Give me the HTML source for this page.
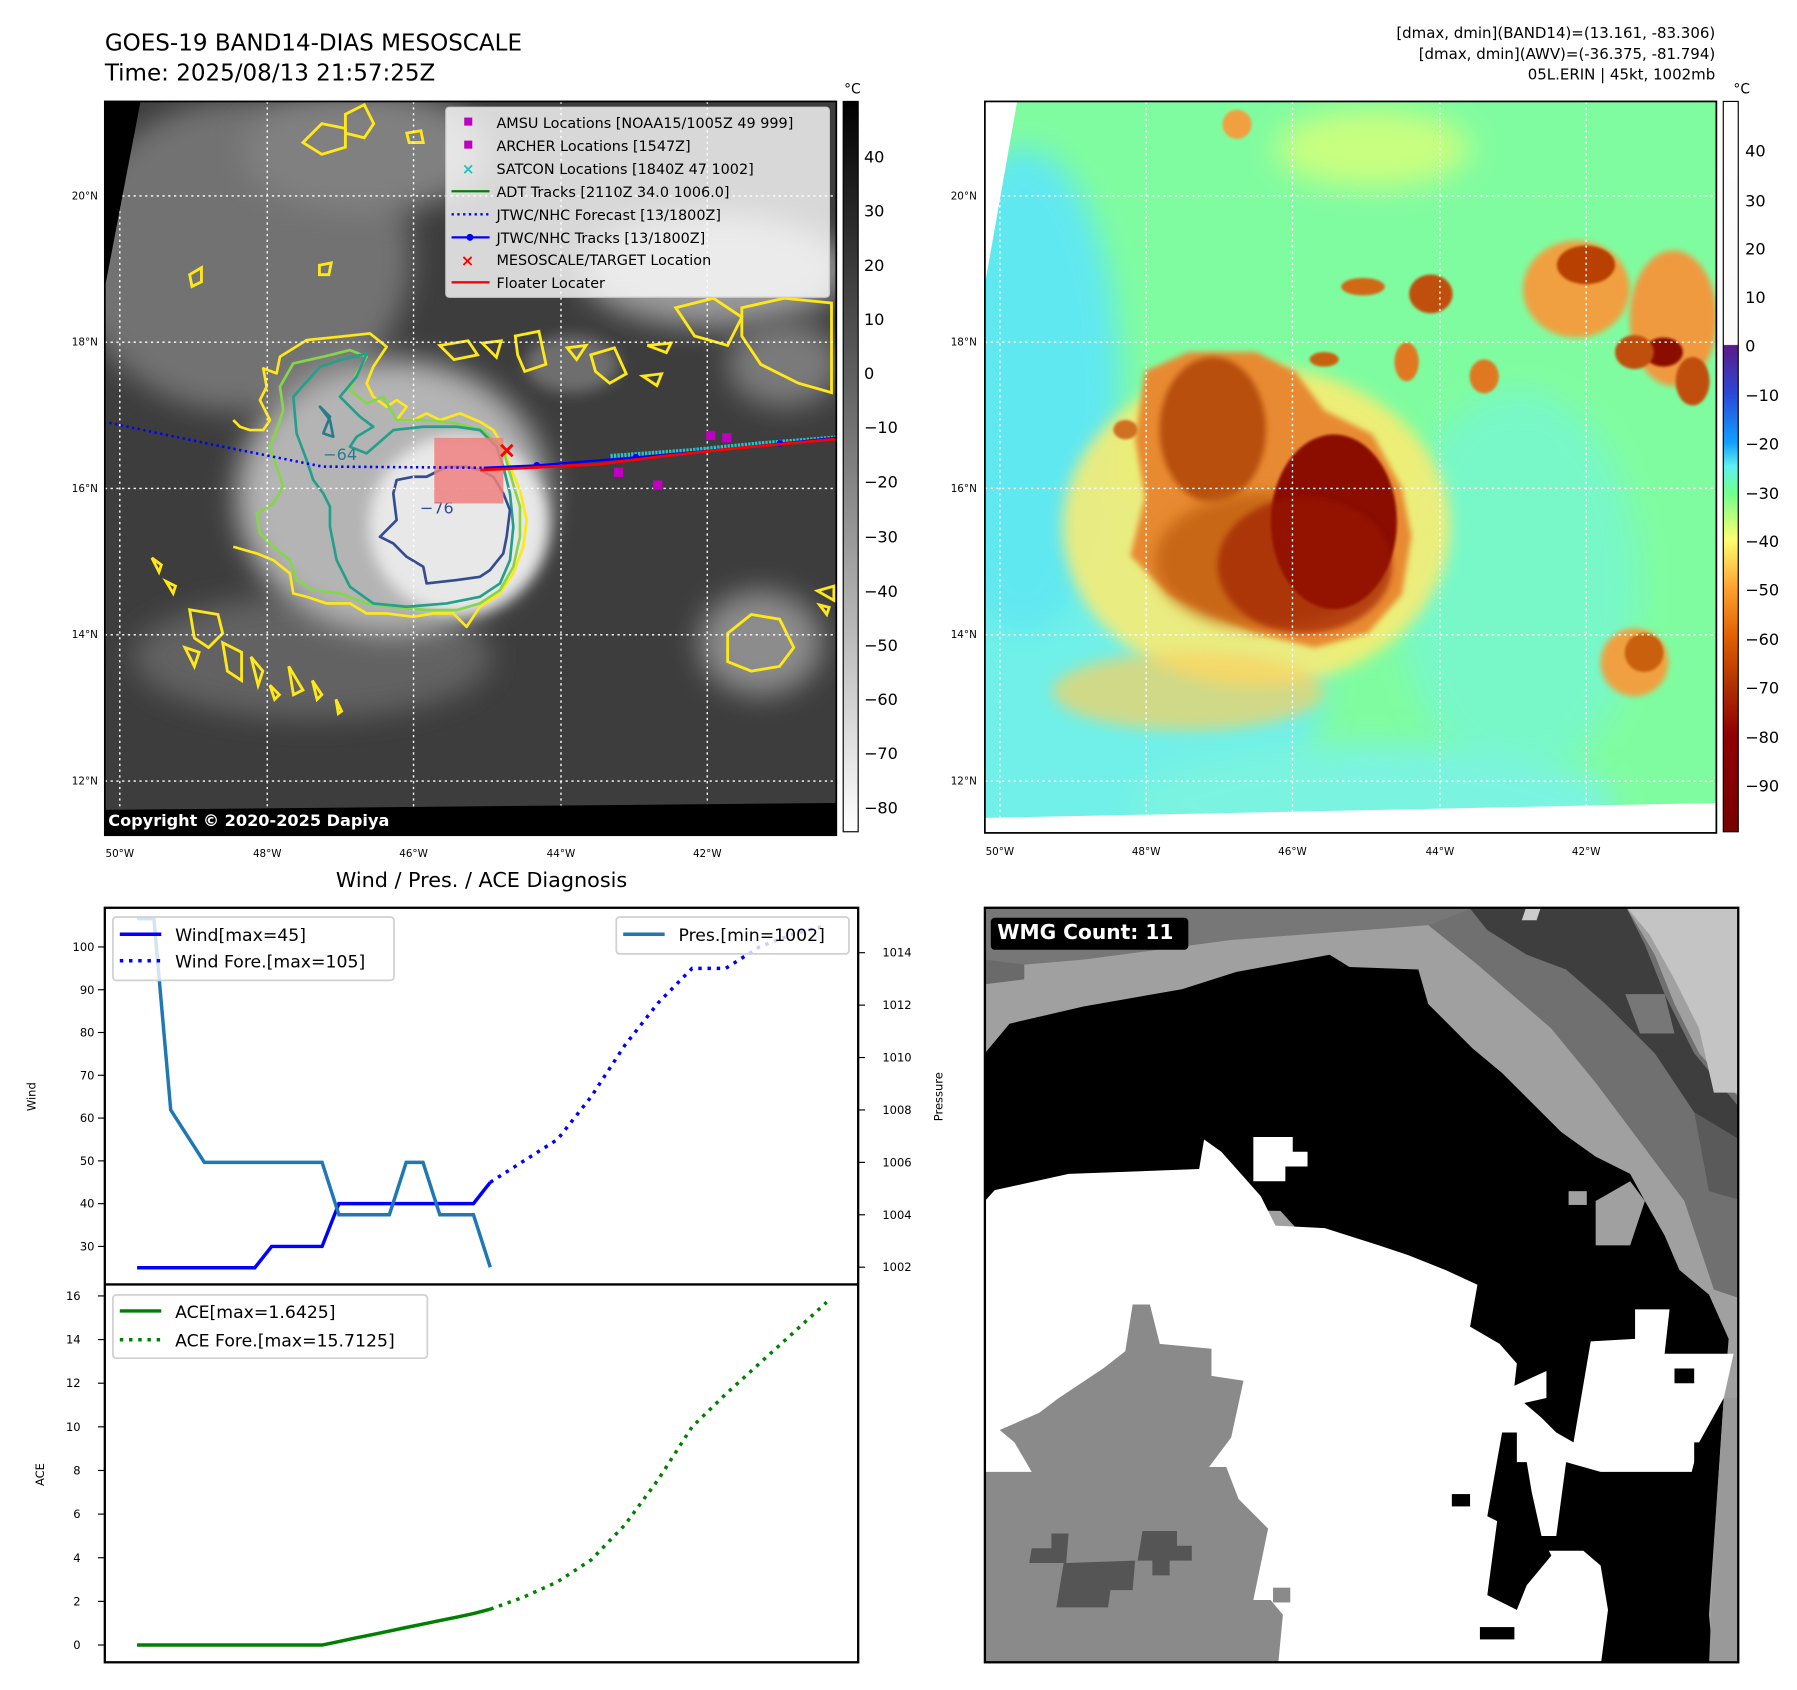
<!DOCTYPE html>
<html><head><meta charset="utf-8"><title>GOES-19 BAND14 Erin</title>
<style>
html,body{margin:0;padding:0;background:#fff;}
svg{display:block;font-family:"DejaVu Sans","Liberation Sans",sans-serif;}
</style></head>
<body>
<svg id="fig" width="1797" height="1690" viewBox="0 0 1560 1467" xmlns="http://www.w3.org/2000/svg">
<defs>
  <filter id="b30" x="-50%" y="-50%" width="200%" height="200%"><feGaussianBlur stdDeviation="30"/></filter>
  <filter id="b15" x="-50%" y="-50%" width="200%" height="200%"><feGaussianBlur stdDeviation="15"/></filter>
  <filter id="b6" x="-50%" y="-50%" width="200%" height="200%"><feGaussianBlur stdDeviation="6"/></filter>
  <filter id="b3" x="-50%" y="-50%" width="200%" height="200%"><feGaussianBlur stdDeviation="3"/></filter>
  <clipPath id="clipL"><rect x="91" y="88" width="635" height="637"/></clipPath>
  <clipPath id="clipR"><rect x="855" y="88" width="635" height="635"/></clipPath>
  <clipPath id="clipW"><rect x="855" y="788" width="654" height="655"/></clipPath>
  <clipPath id="clipTop"><rect x="91" y="788" width="654" height="327"/></clipPath>
  <linearGradient id="cbGray" x1="0" y1="0" x2="0" y2="1">
    <stop offset="0" stop-color="#000"/><stop offset="1" stop-color="#fff"/>
  </linearGradient>
  <linearGradient id="cbColor" x1="0" y1="0" x2="0" y2="1">
    <stop offset="0" stop-color="#ffffff"/>
    <stop offset="0.333" stop-color="#fafafa"/>
    <stop offset="0.334" stop-color="#5a1a88"/>
    <stop offset="0.40" stop-color="#2a48d8"/>
    <stop offset="0.467" stop-color="#10a0ff"/>
    <stop offset="0.50" stop-color="#60f0f0"/>
    <stop offset="0.535" stop-color="#70ff90"/>
    <stop offset="0.60" stop-color="#ffff70"/>
    <stop offset="0.667" stop-color="#ffa030"/>
    <stop offset="0.733" stop-color="#e06000"/>
    <stop offset="0.80" stop-color="#b03000"/>
    <stop offset="0.867" stop-color="#900000"/>
    <stop offset="1" stop-color="#780000"/>
  </linearGradient>
</defs>

<!-- ===== Titles ===== -->
<text x="91" y="44" font-size="20" fill="#000">GOES-19 BAND14-DIAS MESOSCALE</text>
<text x="91" y="70" font-size="20" fill="#000">Time: 2025/08/13 21:57:25Z</text>
<g font-size="13" text-anchor="end" fill="#000">
  <text x="1489" y="33">[dmax, dmin](BAND14)=(13.161, -83.306)</text>
  <text x="1489" y="51">[dmax, dmin](AWV)=(-36.375, -81.794)</text>
  <text x="1489" y="69">05L.ERIN | 45kt, 1002mb</text>
</g>

<!-- ===== Left IR map ===== -->
<g clip-path="url(#clipL)">
  <rect x="91" y="88" width="635" height="637" fill="#3d3d3d"/>
  <g transform="translate(86.8,86.8) scale(0.4097)">
    <ellipse cx="300" cy="330" rx="360" ry="330" fill="#727272" filter="url(#b30)"/>
    <ellipse cx="560" cy="110" rx="260" ry="130" fill="#808080" filter="url(#b30)"/>
    <ellipse cx="1300" cy="360" rx="280" ry="120" fill="#9a9a9a" filter="url(#b30)"/>
    <ellipse cx="1450" cy="560" rx="120" ry="90" fill="#7a7a7a" filter="url(#b30)"/>
    <ellipse cx="1400" cy="1150" rx="130" ry="110" fill="#8c8c8c" filter="url(#b30)"/>
    <ellipse cx="450" cy="1180" rx="380" ry="130" fill="#626262" filter="url(#b30)"/>
    <ellipse cx="620" cy="840" rx="330" ry="290" fill="#b4b4b4" filter="url(#b30)"/>
    <ellipse cx="760" cy="900" rx="190" ry="190" fill="#e8e8e8" filter="url(#b15)"/>
    <ellipse cx="1000" cy="560" rx="100" ry="60" fill="#6e6e6e" filter="url(#b15)"/>
  </g>
  <g transform="translate(208.3,277.8) scale(0.2894)" fill="none" stroke-width="8" stroke-linejoin="round">
    <path stroke="#ffe81a" d="M-20,680 L50,700 100,720 150,760 160,820 200,830 260,850 330,850 380,880 440,880 520,890 580,880 640,880 680,920 720,860 780,820 820,760 850,680 860,600 840,510 810,440 790,380 760,330 720,305 660,280 600,300 560,280 520,300 470,300 500,260 470,240 440,260 400,230 380,190 400,140 440,80 390,40 300,50 200,60 120,110 110,160 70,145 80,200 60,240 90,300 70,330 30,330 0,320 -20,300"/>
    <path stroke="#86d64a" d="M120,200 L160,130 250,110 330,90 380,110 350,160 330,210 380,250 430,230 470,300 520,300 560,300 650,310 730,330 790,390 810,460 840,560 840,650 820,740 780,810 720,850 650,870 560,870 450,860 380,850 300,820 220,810 170,780 150,720 100,680 60,640 50,580 100,550 130,500 110,440 90,380 110,330 130,270 Z"/>
    <path stroke="#24a08a" d="M170,340 L160,230 240,140 300,120 380,100 350,170 300,230 360,290 400,320 350,350 330,380 380,400 460,330 550,320 650,320 720,330 770,380 790,440 810,520 820,620 810,720 780,790 720,830 620,850 500,860 400,850 330,800 290,720 270,620 270,560 250,520 220,480 200,420 Z"/>
    <path stroke="#2a7a8e" d="M240,260 L270,290 250,340 280,350 270,300 Z"/>
    <path stroke="#344c90" d="M470,480 L520,470 560,470 620,440 680,440 720,450 760,470 790,520 810,570 800,650 790,700 750,750 720,770 650,780 560,790 550,740 500,710 460,670 420,650 430,640 470,600 460,520 Z"/>
    <text x="540" y="580" font-size="48" fill="#344c90" stroke="none">−76</text>
    <text x="250" y="420" font-size="48" fill="#2a7a8e" stroke="none">−64</text>
  </g>
  <g transform="translate(86.8,86.8) scale(0.4097)" fill="none" stroke="#ffe81a" stroke-width="6">
    <path d="M430,90 L470,50 520,60 520,100 470,115 Z"/><path d="M520,30 L560,10 580,50 560,80 520,70 Z"/>
    <path d="M650,70 L680,65 685,90 655,90 Z"/><path d="M190,370 L215,355 215,385 195,395 Z"/>
    <path d="M465,350 L490,345 485,370 465,370 Z"/><path d="M880,500 L930,490 945,560 900,575 885,540 Z"/>
    <path d="M990,525 L1030,520 1010,550 Z"/><path d="M1040,540 L1090,525 1115,580 1080,600 1050,575 Z"/>
    <path d="M1150,585 L1190,580 1180,605 Z"/><path d="M1160,520 L1210,515 1200,535 Z"/>
    <path d="M1330,1130 L1380,1090 1440,1100 1470,1160 1440,1200 1380,1210 1330,1190 Z"/>
    <path d="M1220,440 L1300,420 1360,460 1330,520 1260,500 Z"/>
    <path d="M1360,440 L1450,420 1550,430 1550,620 1480,600 1400,560 1360,500 Z"/>
    <path d="M720,520 L780,510 800,540 750,550 Z"/><path d="M810,515 L850,510 840,545 Z"/>
    <path d="M1520,1040 L1555,1030 1555,1060 Z"/><path d="M1525,1070 L1545,1075 1540,1090 Z"/>
    <path d="M190,1080 L250,1090 260,1130 230,1160 200,1140 Z"/><path d="M260,1150 L300,1170 300,1230 270,1210 Z"/>
    <path d="M320,1180 L345,1210 335,1240 Z"/><path d="M400,1200 L430,1250 410,1260 Z"/>
    <path d="M180,1160 L210,1170 200,1200 Z"/><path d="M110,970 L130,985 125,1000 Z"/>
    <path d="M140,1020 L160,1030 155,1045 Z"/><path d="M450,1230 L470,1260 460,1270 Z"/>
    <path d="M500,1270 L512,1295 505,1300 Z"/><path d="M360,1240 L380,1260 370,1270 Z"/>
  </g>
  <g stroke="#fff" stroke-width="1.2" stroke-dasharray="2,3">
    <line x1="104" y1="88" x2="104" y2="725"/><line x1="232" y1="88" x2="232" y2="725"/><line x1="359" y1="88" x2="359" y2="725"/><line x1="487" y1="88" x2="487" y2="725"/><line x1="614" y1="88" x2="614" y2="725"/>
    <line x1="91" y1="170" x2="726" y2="170"/><line x1="91" y1="297" x2="726" y2="297"/><line x1="91" y1="424" x2="726" y2="424"/><line x1="91" y1="551" x2="726" y2="551"/><line x1="91" y1="678" x2="726" y2="678"/>
  </g>
  <polygon points="91,88 122,88 91,250" fill="#000"/>
  <polygon points="91,703 726,697 726,725 91,725" fill="#000"/>
  <rect x="377" y="380" width="60" height="57" fill="#f08080" opacity="0.85"/>
  <polyline points="95,367 180,385 280,405 420,406" fill="none" stroke="#0000ff" stroke-width="2.2" stroke-dasharray="2,3"/>
  <polyline points="530,396 600,391 660,385 726,380" fill="none" stroke="#20c8c8" stroke-width="4" stroke-dasharray="2,1"/>
  <polyline points="420,406 466,404 552,397 640,389 726,380" fill="none" stroke="#0000ff" stroke-width="2"/>
  <g fill="#0000ff"><circle cx="466" cy="404" r="3"/><circle cx="552" cy="397" r="3"/><circle cx="677" cy="385" r="3"/></g>
  <polyline points="417,408 460,406 520,403 575,396 640,389 726,381" fill="none" stroke="#ff0000" stroke-width="2.4"/>
  <g stroke="#ff0000" stroke-width="2.5"><line x1="435" y1="386" x2="445" y2="396"/><line x1="445" y1="386" x2="435" y2="396"/></g>
  <g fill="#c000c0"><rect x="533" y="406" width="8" height="8"/><rect x="567" y="417" width="8" height="8"/><rect x="613" y="374" width="8" height="8"/><rect x="627" y="376" width="8" height="8"/></g>
  <g>
    <rect x="387" y="93" width="333" height="165" rx="3" fill="#fff" fill-opacity="0.8" stroke="#ccc"/>
    <g font-size="12.5" fill="#000">
      <rect x="403" y="102" width="7" height="7" fill="#c000c0"/><text x="431" y="111">AMSU Locations [NOAA15/1005Z 49 999]</text>
      <rect x="403" y="122" width="7" height="7" fill="#c000c0"/><text x="431" y="131">ARCHER Locations [1547Z]</text>
      <text x="401" y="151" fill="#20c0c0" font-size="13" font-weight="bold">×</text><text x="431" y="151">SATCON Locations [1840Z 47 1002]</text>
      <line x1="392" y1="166" x2="425" y2="166" stroke="#008000" stroke-width="2"/><text x="431" y="171">ADT Tracks [2110Z 34.0 1006.0]</text>
      <line x1="392" y1="186" x2="425" y2="186" stroke="#0000ff" stroke-width="2" stroke-dasharray="2,3"/><text x="431" y="191">JTWC/NHC Forecast [13/1800Z]</text>
      <line x1="392" y1="206" x2="425" y2="206" stroke="#0000ff" stroke-width="2"/><circle cx="408" cy="206" r="3" fill="#0000ff"/><text x="431" y="211">JTWC/NHC Tracks [13/1800Z]</text>
      <text x="400" y="231" fill="#ff0000" font-size="14" font-weight="bold">×</text><text x="431" y="230">MESOSCALE/TARGET Location</text>
      <line x1="392" y1="245" x2="425" y2="245" stroke="#ff0000" stroke-width="2"/><text x="431" y="250">Floater Locater</text>
    </g>
  </g>
  <text x="94" y="717" font-size="14" font-weight="bold" fill="#fff">Copyright © 2020-2025 Dapiya</text>
</g>
<rect x="91" y="88" width="635" height="637" fill="none" stroke="#000" stroke-width="1.5"/>
<g font-size="9" text-anchor="end" fill="#000">
  <text x="85" y="173">20°N</text><text x="85" y="300">18°N</text><text x="85" y="427">16°N</text><text x="85" y="554">14°N</text><text x="85" y="681">12°N</text>
</g>
<g font-size="9" text-anchor="middle" fill="#000">
  <text x="104" y="744">50°W</text><text x="232" y="744">48°W</text><text x="359" y="744">46°W</text><text x="487" y="744">44°W</text><text x="614" y="744">42°W</text>
</g>
<g>
  <rect x="732" y="88" width="13" height="634" fill="url(#cbGray)" stroke="#000" stroke-width="1"/>
  <text x="740" y="81" font-size="12" text-anchor="middle">°C</text>
  <g font-size="14" fill="#000">
    <text x="750" y="141">40</text><text x="750" y="188">30</text><text x="750" y="235">20</text><text x="750" y="282">10</text><text x="750" y="329">0</text>
    <text x="750" y="376">−10</text><text x="750" y="423">−20</text><text x="750" y="471">−30</text><text x="750" y="518">−40</text><text x="750" y="565">−50</text>
    <text x="750" y="612">−60</text><text x="750" y="659">−70</text><text x="750" y="706">−80</text>
  </g>
</g>

<!-- ===== Right color map ===== -->
<g clip-path="url(#clipR)">
  <rect x="855" y="88" width="635" height="635" fill="#80fca0"/>
  <g transform="translate(855,86.8) scale(0.4208)">
    <ellipse cx="200" cy="1200" rx="500" ry="400" fill="#70f0e8" filter="url(#b30)"/>
    <ellipse cx="80" cy="600" rx="200" ry="500" fill="#60e8f0" filter="url(#b30)"/>
    <ellipse cx="1100" cy="1000" rx="250" ry="400" fill="#78f8c8" filter="url(#b30)"/>
    <ellipse cx="800" cy="1450" rx="500" ry="120" fill="#7af4e0" filter="url(#b30)"/>
    <ellipse cx="800" cy="100" rx="200" ry="80" fill="#c8ff80" filter="url(#b30)"/>
    <ellipse cx="560" cy="880" rx="400" ry="330" fill="#ffec70" filter="url(#b15)" opacity="0.85"/>
    <ellipse cx="420" cy="1220" rx="280" ry="80" fill="#f8d060" filter="url(#b15)" opacity="0.7"/>
    <path d="M330,560 L420,520 560,520 640,560 700,640 800,690 860,800 880,900 860,1020 790,1100 680,1130 560,1100 470,1060 380,1020 300,940 330,820 310,700 Z" fill="#e88a30" filter="url(#b6)"/>
    <ellipse cx="470" cy="680" rx="110" ry="150" fill="#b85010" filter="url(#b6)"/>
    <ellipse cx="580" cy="950" rx="230" ry="140" fill="#c86818" filter="url(#b15)"/>
    <ellipse cx="720" cy="870" rx="130" ry="180" fill="#8a0800" filter="url(#b3)"/>
    <ellipse cx="660" cy="960" rx="180" ry="140" fill="#9a1800" filter="url(#b6)" opacity="0.6"/>
    <ellipse cx="1220" cy="390" rx="110" ry="100" fill="#f0a040" filter="url(#b6)"/>
    <ellipse cx="1240" cy="340" rx="60" ry="40" fill="#b84000" filter="url(#b3)"/>
    <ellipse cx="1420" cy="450" rx="90" ry="140" fill="#f09a40" filter="url(#b6)"/>
    <ellipse cx="1400" cy="520" rx="40" ry="30" fill="#8a1000" filter="url(#b3)"/>
    <ellipse cx="1340" cy="520" rx="40" ry="35" fill="#c05010" filter="url(#b3)"/>
    <ellipse cx="1460" cy="580" rx="35" ry="50" fill="#c05010" filter="url(#b3)"/>
    <ellipse cx="920" cy="400" rx="45" ry="40" fill="#c05010" filter="url(#b3)"/>
    <ellipse cx="780" cy="385" rx="45" ry="18" fill="#d06818" filter="url(#b3)"/>
    <ellipse cx="870" cy="540" rx="25" ry="40" fill="#e07820" filter="url(#b3)"/>
    <ellipse cx="1030" cy="570" rx="30" ry="35" fill="#e07820" filter="url(#b3)"/>
    <ellipse cx="700" cy="535" rx="30" ry="15" fill="#c86010" filter="url(#b3)"/>
    <ellipse cx="1340" cy="1160" rx="70" ry="70" fill="#f0a040" filter="url(#b6)"/>
    <ellipse cx="1360" cy="1140" rx="40" ry="40" fill="#c86010" filter="url(#b3)"/>
    <ellipse cx="520" cy="50" rx="30" ry="30" fill="#f0a040" filter="url(#b3)"/>
    <ellipse cx="290" cy="680" rx="25" ry="20" fill="#d07020" filter="url(#b3)"/>
  </g>
  <polygon points="855,88 883,88 855,247" fill="#fff"/>
  <polygon points="855,710 1490,697 1490,723 855,723" fill="#fff"/>
  <g stroke="#fff" stroke-width="1.2" stroke-dasharray="2,3">
    <line x1="868" y1="88" x2="868" y2="723"/><line x1="995" y1="88" x2="995" y2="723"/><line x1="1122" y1="88" x2="1122" y2="723"/><line x1="1250" y1="88" x2="1250" y2="723"/><line x1="1377" y1="88" x2="1377" y2="723"/>
    <line x1="855" y1="170" x2="1490" y2="170"/><line x1="855" y1="297" x2="1490" y2="297"/><line x1="855" y1="424" x2="1490" y2="424"/><line x1="855" y1="551" x2="1490" y2="551"/><line x1="855" y1="678" x2="1490" y2="678"/>
  </g>
</g>
<rect x="855" y="88" width="635" height="635" fill="none" stroke="#000" stroke-width="1.5"/>
<g font-size="9" text-anchor="end" fill="#000">
  <text x="848" y="173">20°N</text><text x="848" y="300">18°N</text><text x="848" y="427">16°N</text><text x="848" y="554">14°N</text><text x="848" y="681">12°N</text>
</g>
<g font-size="9" text-anchor="middle" fill="#000">
  <text x="868" y="742">50°W</text><text x="995" y="742">48°W</text><text x="1122" y="742">46°W</text><text x="1250" y="742">44°W</text><text x="1377" y="742">42°W</text>
</g>
<g>
  <rect x="1496" y="88" width="13" height="634" fill="url(#cbColor)" stroke="#000" stroke-width="1"/>
  <text x="1512" y="81" font-size="12" text-anchor="middle">°C</text>
  <g font-size="14" fill="#000">
    <text x="1515" y="136">40</text><text x="1515" y="179">30</text><text x="1515" y="221">20</text><text x="1515" y="263">10</text><text x="1515" y="305">0</text>
    <text x="1515" y="348">−10</text><text x="1515" y="390">−20</text><text x="1515" y="433">−30</text><text x="1515" y="475">−40</text><text x="1515" y="517">−50</text>
    <text x="1515" y="560">−60</text><text x="1515" y="602">−70</text><text x="1515" y="645">−80</text><text x="1515" y="687">−90</text>
  </g>
</g>

<!-- ===== WMG panel ===== -->
<g clip-path="url(#clipW)">
  <g transform="translate(855,786) scale(0.4276)">
    <rect x="0" y="0" width="1540" height="1545" fill="#a0a0a0"/>
    <polygon points="0,0 1000,0 900,40 500,70 200,110 80,120 0,150" fill="#777"/>
    <polygon points="0,110 80,120 80,150 0,160" fill="#6a6a6a"/>
    <polygon points="900,40 1000,0 1300,0 1360,100 1400,200 1450,300 1540,400 1540,800 1480,780 1420,600 1330,480 1240,360 1150,250 1000,120" fill="#707070"/>
    <polygon points="980,0 1300,0 1340,80 1380,180 1440,300 1540,420 1540,480 1440,420 1360,300 1260,200 1180,130 1100,100 1020,50" fill="#3e3e3e"/>
    <polygon points="1300,0 1540,0 1540,380 1480,380 1450,250 1400,150 1350,60" fill="#c4c4c4"/>
    <polygon points="1100,0 1130,0 1120,30 1090,30" fill="#ccc"/>
    <polygon points="1300,180 1380,180 1400,260 1330,260" fill="#777"/>
    <polygon points="1440,420 1540,480 1540,600 1470,580" fill="#5a5a5a"/>
    <polygon points="0,300 50,240 200,205 400,170 510,135 700,100 740,125 880,130 900,200 990,290 1050,340 1110,400 1170,460 1240,510 1310,545 1340,600 1380,670 1410,740 1470,790 1510,880 1500,1000 1470,1440 1480,1545 1250,1545 1240,1400 1040,1400 1000,1060 600,620 0,610" fill="#000"/>
    <polygon points="0,600 20,578 170,545 435,535 445,475 480,500 560,590 590,650 690,655 800,690 860,710 935,740 1000,770 985,855 1045,890 1080,930 1075,975 1140,945 1140,1000 1095,1010 1130,1040 1160,1070 1195,1090 1230,885 1320,880 1320,820 1390,820 1380,910 1520,910 1500,1000 1450,1090 1435,1150 1250,1150 1180,1130 1160,1280 1120,1280 1145,1310 1215,1310 1250,1340 1265,1430 1250,1545 0,1545" fill="#fff"/>
    <polygon points="1050,1070 1080,1070 1080,1130 1100,1130 1110,1190 1130,1280 1150,1320 1100,1380 1080,1430 1020,1400 1040,1250 1020,1240" fill="#000"/>
    <rect x="1400" y="940" width="40" height="30" fill="#000"/><rect x="1440" y="1090" width="40" height="60" fill="#000"/>
    <rect x="948" y="1195" width="37" height="25" fill="#000"/><rect x="1005" y="1465" width="70" height="25" fill="#000"/>
    <rect x="1185" y="580" width="37" height="28" fill="#a0a0a0"/>
    <polygon points="545,470 625,470 625,500 655,500 655,530 610,530 610,560 545,560" fill="#fff"/>
    <polygon points="0,1150 95,1150 60,1090 30,1065 110,1030 150,1000 240,940 285,905 300,810 335,810 355,890 460,900 460,955 525,965 500,1080 455,1140 490,1140 515,1205 575,1265 545,1410 580,1410 605,1440 595,1545 0,1545" fill="#8a8a8a"/>
    <polygon points="135,1275 170,1275 165,1335 305,1330 300,1390 255,1390 250,1425 145,1425 160,1335 90,1335 95,1305 135,1305" fill="#555"/>
    <polygon points="320,1270 390,1270 390,1300 420,1300 420,1330 375,1330 375,1360 340,1360 340,1330 310,1330" fill="#555"/>
    <rect x="585" y="1385" width="35" height="30" fill="#8a8a8a"/>
    <polygon points="1500,1000 1540,1000 1540,1545 1470,1545 1480,1300" fill="#999"/>
    <polygon points="1240,600 1310,560 1340,600 1310,690 1240,690" fill="#a0a0a0"/>
    <g>
      <rect x="12" y="25" width="401" height="65" rx="8" fill="#000"/>
      <text x="25" y="68" font-size="41" font-weight="bold" fill="#fff">WMG Count: 11</text>
    </g>
  </g>
</g>
<rect x="855" y="788" width="654" height="655" fill="none" stroke="#000" stroke-width="2"/>

<!-- ===== Diagnosis chart ===== -->
<g id="diag">
  <text x="418" y="770" font-size="18" text-anchor="middle">Wind / Pres. / ACE Diagnosis</text>
  <rect x="91" y="788" width="654" height="655" fill="#fff"/>
  <g id="axes"></g>
  <g id="series"></g>
  <g id="legends"></g>
  <rect x="91" y="788" width="654" height="655" fill="none" stroke="#000" stroke-width="2"/>
  <line x1="91" y1="1115" x2="745" y2="1115" stroke="#000" stroke-width="2"/>
  <text transform="translate(31,952) rotate(-90)" font-size="10" text-anchor="middle">Wind</text>
  <text transform="translate(818,952) rotate(-90)" font-size="10" text-anchor="middle">Pressure</text>
  <text transform="translate(38,1280) rotate(-90)" font-size="10" text-anchor="middle">ACE</text>
</g>

<script>
const bestHours = [0,6,12,18,24,30,36,42,48,54,60,66,72,78,84,90,96,102,108,114,120,126];
const windBest = [25,25,25,25,25,25,25,25,30,30,30,30,40,40,40,40,40,40,40,40,40,45];
const presBest = [1015.3,1015.3,1008,1007,1006,1006,1006,1006,1006,1006,1006,1006,1004,1004,1004,1004,1006,1006,1004,1004,1004,1002];
const aceBest = [0,0,0,0,0,0,0,0,0,0,0,0,0.16,0.32,0.48,0.64,0.8,0.96,1.12,1.28,1.44,1.6425];
const foreHours = [126,138,150,162,174,186,198,210,222,234,246];
const windFore = [45,50,55,65,77,87,95,95,100,103,105];
const aceFore = [1.6425,2.2,2.9,3.9,5.5,7.6,10.0,11.5,12.9,14.3,15.7125];
const windTicks = [30,40,50,60,70,80,90,100];
const presTicks = [1002,1004,1006,1008,1010,1012,1014];
const aceTicks = [0,2,4,6,8,10,12,14,16];

function xOf(h){ return 119 + h*(14.6/6); }
function yWind(v){ return 822 + (100 - v)*3.714; }
function yPres(p){ return 1100 - (p - 1002)*22.75; }
function yAce(a){ return 1428 - a*18.94; }

const NS = 'http://www.w3.org/2000/svg';
function mk(tag, attrs, parent){
  const e = document.createElementNS(NS, tag);
  for (const k in attrs) e.setAttribute(k, attrs[k]);
  parent.appendChild(e);
  return e;
}
const axes = document.getElementById('axes');
const series = document.getElementById('series');
const legends = document.getElementById('legends');

windTicks.forEach(v => {
  const y = yWind(v);
  const t = mk('line', {x1:85, y1:y, x2:91, y2:y, stroke:'#000', 'stroke-width':1}, axes);
  
  
  const l = mk('text', {x:82, y:y+3.5, 'font-size':10, 'text-anchor':'end'}, axes);
  l.textContent = v;
  
  
});
presTicks.forEach(v => {
  const y = yPres(v);
  const t = mk('line', {x1:745, y1:y, x2:751, y2:y, stroke:'#000', 'stroke-width':1}, axes);
  
  
  const l = mk('text', {x:766, y:y+3.5, 'font-size':10}, axes);
  l.textContent = v;
  
  
});
aceTicks.forEach(v => {
  const y = yAce(v);
  const t = mk('line', {x1:85, y1:y, x2:91, y2:y, stroke:'#000', 'stroke-width':1}, axes);
  
  
  const l = mk('text', {x:70, y:y+3.5, 'font-size':10, 'text-anchor':'end'}, axes);
  l.textContent = v;
  
  
});

function pts(hours, vals, yf){ return hours.map((h,i)=> xOf(h).toFixed(1)+','+yf(vals[i]).toFixed(1)).join(' '); }

const topG = mk('g', {'clip-path':'url(#clipTop)'}, series);
const wf = mk('polyline', {points:pts(foreHours, windFore, yWind), fill:'none', stroke:'#0000ff', 'stroke-width':3, 'stroke-dasharray':'3,5'}, topG);


const wb = mk('polyline', {points:pts(bestHours, windBest, yWind), fill:'none', stroke:'#0000ff', 'stroke-width':3}, topG);



const af = mk('polyline', {points:pts(foreHours, aceFore, yAce), fill:'none', stroke:'#008000', 'stroke-width':3, 'stroke-dasharray':'3,5'}, series);


const ab = mk('polyline', {points:pts(bestHours, aceBest, yAce), fill:'none', stroke:'#008000', 'stroke-width':3}, series);



const lg1 = mk('g', {}, legends);


mk('rect', {x:98, y:796, width:244, height:55, rx:3, fill:'#fff', 'fill-opacity':0.8, stroke:'#d0d0d0', 'stroke-width':1.5}, lg1);
mk('line', {x1:104, y1:811, x2:140, y2:811, stroke:'#0000ff', 'stroke-width':3}, lg1);
mk('line', {x1:104, y1:834, x2:140, y2:834, stroke:'#0000ff', 'stroke-width':3, 'stroke-dasharray':'3,5'}, lg1);
mk('text', {x:152, y:817, 'font-size':15}, lg1).textContent = 'Wind[max=45]';
mk('text', {x:152, y:840, 'font-size':15}, lg1).textContent = 'Wind Fore.[max=105]';

const pb = mk('polyline', {points:pts(bestHours, presBest, yPres), fill:'none', stroke:'#1f77b4', 'stroke-width':3}, series);



const lg2 = mk('g', {}, legends);


mk('rect', {x:535, y:796, width:202, height:32, rx:3, fill:'#fff', 'fill-opacity':0.8, stroke:'#d0d0d0', 'stroke-width':1.5}, lg2);
mk('line', {x1:541, y1:811, x2:577, y2:811, stroke:'#1f77b4', 'stroke-width':3}, lg2);
mk('text', {x:589, y:817, 'font-size':15}, lg2).textContent = 'Pres.[min=1002]';

const lg3 = mk('g', {}, legends);


mk('rect', {x:98, y:1124, width:273, height:55, rx:3, fill:'#fff', 'fill-opacity':0.8, stroke:'#d0d0d0', 'stroke-width':1.5}, lg3);
mk('line', {x1:104, y1:1138, x2:140, y2:1138, stroke:'#008000', 'stroke-width':3}, lg3);
mk('line', {x1:104, y1:1163, x2:140, y2:1163, stroke:'#008000', 'stroke-width':3, 'stroke-dasharray':'3,5'}, lg3);
mk('text', {x:152, y:1144, 'font-size':15}, lg3).textContent = 'ACE[max=1.6425]';
mk('text', {x:152, y:1169, 'font-size':15}, lg3).textContent = 'ACE Fore.[max=15.7125]';
</script>
</svg>
</body></html>
